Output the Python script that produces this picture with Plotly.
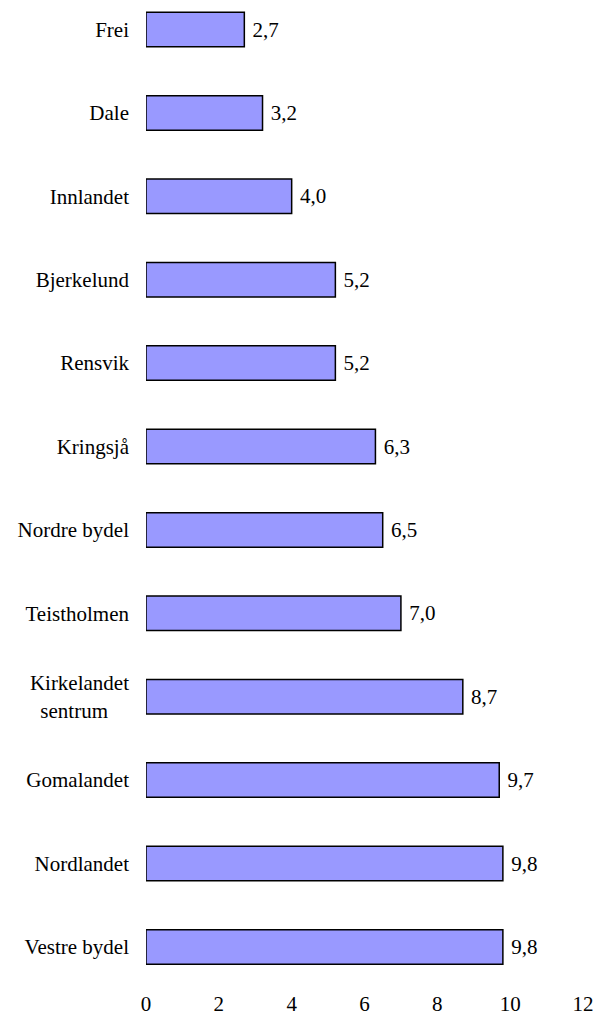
import plotly.graph_objects as go

categories = ["Frei", "Dale", "Innlandet", "Bjerkelund", "Rensvik", "Kringsjå",
              "Nordre bydel", "Teistholmen", "Kirkelandet<br>sentrum&nbsp;&nbsp;&nbsp;&nbsp;",
              "Gomalandet", "Nordlandet", "Vestre bydel"]
values = [2.7, 3.2, 4.0, 5.2, 5.2, 6.3, 6.5, 7.0, 8.7, 9.7, 9.8, 9.8]
x_ticks = [0, 2, 4, 6, 8, 10, 12]

FONT = "Liberation Serif, Times New Roman, serif"
W, H = 603, 1027
plot_top, plot_bottom = 0, 980
step = 83.4
first_center = 29.5
r_top = -first_center / step
r_bottom = r_top + (plot_bottom - plot_top) / step

fig = go.Figure(go.Bar(
    x=values,
    y=list(range(len(categories))),
    orientation="h",
    marker=dict(color="#9999FF", line=dict(color="black", width=1.5)),
    text=["&nbsp;" + f"{v:.1f}".replace(".", ",") for v in values],
    textposition="outside",
    textfont=dict(family=FONT, size=21, color="black"),
    cliponaxis=False,
    hoverinfo="skip",
))

fig.update_layout(
    width=W, height=H,
    margin=dict(l=146, r=20, t=plot_top, b=H - plot_bottom),
    paper_bgcolor="white", plot_bgcolor="white",
    bargap=0.586,
    showlegend=False,
    font=dict(family=FONT, size=21, color="black"),
    xaxis=dict(range=[0, 12], tickvals=x_ticks, ticktext=[str(t) for t in x_ticks],
               showgrid=False, zeroline=False, showline=False, ticks="",
               ticklabelstandoff=9, tickfont=dict(family=FONT, size=21)),
    yaxis=dict(range=[r_bottom, r_top], tickvals=list(range(len(categories))),
               ticktext=categories, showgrid=False, zeroline=False, showline=False,
               ticks="", ticklabelstandoff=16, tickfont=dict(family=FONT, size=21)),
)

fig.write_html("out.html", config={"displayModeBar": False},
               post_script="document.body.style.margin='0';document.body.style.padding='0';")
